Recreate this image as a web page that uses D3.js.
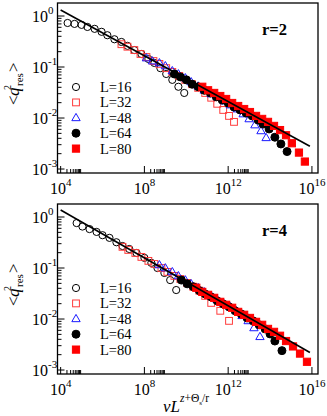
<!DOCTYPE html>
<html>
<head>
<meta charset="utf-8">
<script src="https://cdn.jsdelivr.net/npm/d3@7"></script>
<style>
  body { margin: 0; background: #fff; }
  svg { display: block; font-family: "Liberation Serif", "Times New Roman", serif; }
</style>
</head>
<body>
<svg id="chart" width="327" height="416"></svg>
<script>
// ---- data ----
const seriesNames = ["L=16", "L=32", "L=48", "L=64", "L=80"];
const xMajorExps = [4, 8, 12, 16];
const yMajorExps = [0, -1, -2, -3];

// r = 2 panel
const r2x16 = [2.15e4, 4.6e4, 1e5, 1.9e5, 4.2e5, 9e5, 1.7e6, 3.7e6, 8e6, 1.55e7, 3.3e7, 7.2e7, 1.55e8, 3e8, 5.8e8, 1.1e9, 2.15e9, 4.2e9, 8e9];
const r2y16 = [0.73, 0.70, 0.67, 0.61, 0.56, 0.49, 0.42, 0.35, 0.31, 0.26, 0.215, 0.18, 0.144, 0.12, 0.095, 0.073, 0.056, 0.041, 0.031];
const r2x32 = [8e6, 1.55e7, 3.3e7, 6.5e7, 1.25e8, 2.7e8, 5.2e8, 1.1e9, 2.15e9, 4.6e9, 9e9, 1.9e10, 3.7e10, 8e10, 1.55e11, 3e11, 5.8e11, 1.1e12, 1.9e12];
const r2y32 = [0.28, 0.25, 0.215, 0.18, 0.157, 0.131, 0.115, 0.095, 0.08, 0.067, 0.056, 0.046, 0.039, 0.031, 0.025, 0.019, 0.0144, 0.011, 0.0084];
const r2x48 = [1.25e8, 2.4e8, 5.2e8, 1e9, 2.15e9, 4.2e9, 9e9, 1.7e10, 3.7e10, 7.2e10, 1.55e11, 3e11, 6.5e11, 1.25e12, 2.7e12, 5.2e12, 1e13, 1.9e13, 3.7e13, 6.5e13];
const r2y48 = [0.15, 0.131, 0.12, 0.105, 0.084, 0.073, 0.061, 0.051, 0.042, 0.035, 0.0296, 0.026, 0.0215, 0.018, 0.015, 0.012, 0.0096, 0.0073, 0.0056, 0.0041];
const r2x64 = [2.7e9, 5.2e9, 1e10, 1.9e10, 3.7e10, 7.2e10, 1.4e11, 2.7e11, 5.2e11, 1e12, 1.9e12, 3.7e12, 7.2e12, 1.4e13, 2.7e13, 4.6e13, 9e13, 1.7e14, 3.3e14, 6.5e14];
const r2y64 = [0.073, 0.064, 0.056, 0.046, 0.041, 0.035, 0.031, 0.026, 0.0225, 0.0197, 0.0164, 0.0144, 0.0125, 0.011, 0.0091, 0.0076, 0.0061, 0.0042, 0.0031, 0.0022];
const r2x80 = [5.8e10, 1.1e11, 2.15e11, 4.2e11, 8e11, 1.55e12, 3e12, 5.8e12, 1.1e13, 2.15e13, 4.2e13, 8e13, 1.55e14, 3e14, 5.8e14, 1.1e15, 2.4e15, 4.6e15];
const r2y80 = [0.041, 0.035, 0.031, 0.027, 0.0236, 0.0197, 0.0172, 0.015, 0.0131, 0.011, 0.0096, 0.0084, 0.007, 0.0058, 0.0046, 0.0032, 0.0021, 0.0014];
const r2FitX = [1e4, 8e15];
const r2FitY = [1.31, 0.0028];

// r = 4 panel
const r4x16 = [5.8e4, 1.1e5, 2.4e5, 5.2e5, 1e6, 2.15e6, 4.6e6, 9e6, 1.9e7, 4.2e7, 1e8, 2.15e8, 4.2e8, 9e8, 1.7e9, 3.3e9];
const r4y16 = [0.76, 0.65, 0.58, 0.51, 0.44, 0.39, 0.32, 0.27, 0.236, 0.197, 0.158, 0.126, 0.10, 0.080, 0.058, 0.037];
const r4x32 = [9e6, 1.7e7, 3.7e7, 7.2e7, 1.55e8, 3e8, 6.5e8, 1.25e9, 2.7e9, 5.2e9, 1.1e10, 2.15e10, 4.2e10, 8e10, 1.55e11, 4.2e11, 1.1e12];
const r4y32 = [0.26, 0.226, 0.197, 0.165, 0.138, 0.12, 0.10, 0.084, 0.07, 0.061, 0.051, 0.043, 0.036, 0.0284, 0.0207, 0.0145, 0.0092];
const r4x48 = [5.2e8, 1e9, 2.15e9, 4.2e9, 9e9, 1.7e10, 3.7e10, 7.2e10, 1.55e11, 3e11, 5.8e11, 1.25e12, 2.4e12, 4.6e12, 9e12, 1.7e13, 3.3e13];
const r4y48 = [0.115, 0.10, 0.084, 0.07, 0.058, 0.049, 0.041, 0.034, 0.0284, 0.0238, 0.0207, 0.0173, 0.0145, 0.0116, 0.0092, 0.0067, 0.0045];
const r4x64 = [5.8e9, 1.1e10, 2.15e10, 4.2e10, 8e10, 1.55e11, 3e11, 5.8e11, 1.1e12, 2.15e12, 4.2e12, 8e12, 1.55e13, 3e13, 5.8e13, 1e14, 1.7e14, 3.7e14];
const r4y64 = [0.058, 0.049, 0.043, 0.036, 0.031, 0.027, 0.0227, 0.0198, 0.0173, 0.0145, 0.0126, 0.0105, 0.0092, 0.0077, 0.0064, 0.0051, 0.0037, 0.0024];
const r4x80 = [3e10, 5.8e10, 1.1e11, 2.15e11, 4.2e11, 8e11, 1.55e12, 3e12, 5.8e12, 1.1e13, 2.15e13, 4.2e13, 8e13, 1.55e14, 3e14, 5.8e14, 1.25e15, 2.7e15, 5.8e15];
const r4y80 = [0.041, 0.034, 0.0298, 0.026, 0.0217, 0.019, 0.0166, 0.0138, 0.0121, 0.0105, 0.0088, 0.0077, 0.0064, 0.0056, 0.0047, 0.0037, 0.0029, 0.0021, 0.00145];
const r4FitX = [1e4, 8e15];
const r4FitY = [1.37, 0.0022];

// ---- marker styles, one per L ----
const styles = [
  { shape: "circle",   fill: "none",    stroke: "#000",    size: 3.6 },
  { shape: "square",   fill: "none",    stroke: "#ff3b3b", size: 3.4 },
  { shape: "triangle", fill: "none",    stroke: "#1a1aff", size: 4.4 },
  { shape: "circle",   fill: "#000",    stroke: "#000",    size: 4.0 },
  { shape: "square",   fill: "#ff0000", stroke: "#ff0000", size: 3.6 }
];

const svg = d3.select("#chart");
const left = 57.5, right = 318, panelH = 170;

const x = d3.scaleLog().domain([Math.pow(10, 3.85), Math.pow(10, 16.29)]).range([left, right]);

function marker(g, st, cx, cy) {
  const s = st.size;
  let m;
  if (st.shape === "circle") {
    m = g.append("circle").attr("cx", cx).attr("cy", cy).attr("r", s);
  } else if (st.shape === "square") {
    m = g.append("rect").attr("x", cx - s).attr("y", cy - s).attr("width", 2 * s).attr("height", 2 * s);
  } else {
    m = g.append("path").attr("d", `M${cx},${cy - s}L${cx + s * 0.95},${cy + s * 0.65}L${cx - s * 0.95},${cy + s * 0.65}Z`);
  }
  m.attr("fill", st.fill).attr("stroke", st.stroke).attr("stroke-width", 1);
}

function drawPanel(top, rLabel, xs, ys, fitX, fitY) {
  const y = d3.scaleLog().domain([Math.pow(10, -3.078), Math.pow(10, 0.255)]).range([top + panelH, top]);
  const g = svg.append("g");
  const bottom = top + panelH;

  // data points
  xs.forEach((xv, i) => {
    const grp = g.append("g");
    xv.forEach((v, j) => marker(grp, styles[i], x(v), y(ys[i][j])));
  });

  // power-law fit line
  g.append("path")
    .datum(fitX.map((v, i) => [v, fitY[i]]))
    .attr("d", d3.line().x(d => x(d[0])).y(d => y(d[1])))
    .attr("fill", "none").attr("stroke", "#000").attr("stroke-width", 1.6);

  // frame
  g.append("rect").attr("x", left).attr("y", top).attr("width", right - left).attr("height", panelH)
    .attr("fill", "none").attr("stroke", "#000").attr("stroke-width", 1.3);

  // x ticks (inward)
  xMajorExps.forEach(e => {
    const v = Math.pow(10, e);
    g.append("line").attr("x1", x(v)).attr("x2", x(v)).attr("y1", bottom).attr("y2", bottom - 7)
      .attr("stroke", "#000").attr("stroke-width", 1);
    if (e < 16) {
      for (let k = 2; k <= 9; k++) {
        const xv = x(k * v);
        g.append("line").attr("x1", xv).attr("x2", xv).attr("y1", bottom).attr("y2", bottom - 4)
          .attr("stroke", "#000").attr("stroke-width", 1);
      }
    }
    const t = g.append("text").attr("x", x(v)).attr("y", bottom + 21).attr("text-anchor", "middle")
      .attr("font-size", 16);
    t.append("tspan").text("10");
    t.append("tspan").attr("font-size", 11).attr("dy", -8).text(e);
  });

  // y ticks (inward)
  yMajorExps.forEach(e => {
    const v = Math.pow(10, e);
    g.append("line").attr("x1", left).attr("x2", left + 7).attr("y1", y(v)).attr("y2", y(v))
      .attr("stroke", "#000").attr("stroke-width", 1);
    if (e > -4 && e < 0) {
      for (let k = 2; k <= 9; k++) {
        const yv = y(k * v);
        g.append("line").attr("x1", left).attr("x2", left + 4).attr("y1", yv).attr("y2", yv)
          .attr("stroke", "#000").attr("stroke-width", 1);
      }
    }
    const t = g.append("text").attr("x", 32).attr("y", y(v) + 5.5).attr("font-size", 16);
    t.append("tspan").text("10");
    t.append("tspan").attr("font-size", 11).attr("dy", -8).text(e === 0 ? "0" : "-" + (-e));
  });

  // legend
  seriesNames.forEach((name, i) => {
    const ly = top + 84 + i * 15.4;
    marker(g, styles[i], 76, ly);
    g.append("text").attr("x", 100).attr("y", ly + 5).attr("font-size", 14.5).text(name);
  });

  // panel label
  g.append("text").attr("x", 262).attr("y", top + 31.5).attr("font-size", 16.5)
    .attr("font-weight", "bold").text(rLabel);

  // y-axis title <q^2_res>
  const yl = g.append("g").attr("transform", `translate(19,${top + 81}) rotate(-90)`)
    .attr("font-size", 17);
  yl.append("text").attr("x", -21).attr("y", 0).text("<");
  yl.append("text").attr("x", -12).attr("y", 0).attr("font-style", "italic").text("q");
  yl.append("text").attr("x", -6).attr("y", -8).attr("font-size", 10).text("2");
  yl.append("text").attr("x", -2).attr("y", 4).attr("font-size", 11).text("res");
  yl.append("text").attr("x", 12).attr("y", 0).text(">");
}

drawPanel(3, "r=2", [r2x16, r2x32, r2x48, r2x64, r2x80], [r2y16, r2y32, r2y48, r2y64, r2y80], r2FitX, r2FitY);
drawPanel(204, "r=4", [r4x16, r4x32, r4x48, r4x64, r4x80], [r4y16, r4y32, r4y48, r4y64, r4y80], r4FitX, r4FitY);

// x-axis title  vL^{z+Θs/r}
const xt = svg.append("text").attr("x", 163).attr("y", 412).attr("font-size", 17);
xt.append("tspan").attr("font-style", "italic").text("vL");
const xs = svg.append("text").attr("x", 180).attr("y", 402).attr("font-size", 11.5);
xs.append("tspan").attr("font-style", "italic").text("z");
xs.append("tspan").text("+Θ");
xs.append("tspan").attr("font-size", 7).attr("dy", 3).text("s");
xs.append("tspan").attr("dy", -3).text("/r");
</script>
</body>
</html>
